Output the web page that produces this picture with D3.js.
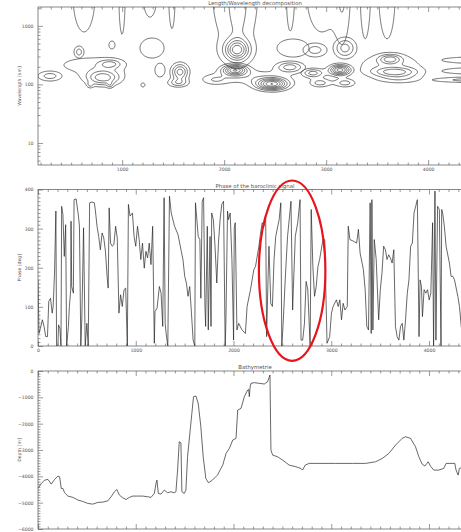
<!DOCTYPE html>
<html><head><meta charset="utf-8">
<script src="https://cdn.jsdelivr.net/npm/d3@7"></script>
<style>
html,body{margin:0;padding:0;background:#fff;}
svg{display:block;}
</style></head><body>
<svg id="c" width="461" height="532"></svg>
<script>
// ---------------- DATA ----------------
const titles = ["Length/Wavelength decomposition", "Phase of the baroclinic signal", "Bathymetrie"];
const yTitles = ["Wavelength [km]", "Phase [deg]", "Depth [m]"];

// Top panel: wavelet power features
// along-track position (km), wavelength (km), peak level, spread along track (km), spread in log10(wavelength), feature group
const blobX   = [626, 999, 1273, 1489, 2646, 2959, 3165, 3381, 3597,
                 2106, 2136, 2126,
                 577, 900, 293,
                 700, 881, 812, 685, 881,
                 1293, 1204, 1371,
                 1567, 1548,
                 1910, 2106, 2469, 2646, 2250,
                 2675, 2891, 3185,
                 2871, 3136, 2940, 3185,
                 3626, 3675, 3626, 3724,
                 4450, 4450, 4450];
const blobWl  = [3365, 3365, 3365, 3365, 3365, 3365, 3365, 3365, 3365,
                 3365, 3365, 387,
                 357, 471, 139,
                 214, 223, 129, 98, 98,
                 418, 98, 176,
                 163, 106,
                 119, 176, 101, 198, 134,
                 418, 387, 418,
                 156, 176, 106, 106,
                 271, 163, 214, 124,
                 261, 169, 119];
const blobAmp = [1.5, 1.5, 1.5, 1.5, 1.5, 1.5, 1.5, 1.5, 1.5,
                 1.5, 1.5, 5.5,
                 2.5, 1.5, 2.5,
                 1.5, 2.5, 4.5, 1.5, 1.5,
                 1.5, 1.5, 1.5,
                 4.5, 2.5,
                 1.5, 6.5, 7.5, 3.5, 1.5,
                 1.5, 2.5, 3.5,
                 3.5, 6.5, 2.5, 2.5,
                 3.5, 3.5, 1.8, 1.5,
                 1.5, 1.5, 2.5];
const blobSx  = [120, 33, 76, 33, 33, 163, 54, 44, 87,
                 240, 65, 80,
                 36, 33, 87,
                 300, 72, 113, 22, 22,
                 131, 22, 55,
                 57, 72,
                 87, 81, 103, 93, 300,
                 174, 87, 74,
                 74, 71, 72, 72,
                 74, 149, 250, 163,
                 350, 350, 300];
const blobSy  = [0.70, 0.74, 0.42, 0.63, 0.57, 0.70, 0.66, 0.76, 0.83,
                 1.0, 0.61, 0.12,
                 0.076, 0.076, 0.063,
                 0.133, 0.05, 0.089, 0.038, 0.038,
                 0.19, 0.038, 0.13,
                 0.099, 0.05,
                 0.057, 0.062, 0.068, 0.065, 0.1,
                 0.171, 0.088, 0.119,
                 0.054, 0.062, 0.05, 0.05,
                 0.054, 0.054, 0.15, 0.057,
                 0.057, 0.057, 0.032];
const blobGroup = [0, 0, 0, 0, 0, 0, 0, 0, 0,
                 1, 1, 1,
                 2, 3, 4,
                 5, 5, 5, 5, 5,
                 6, 7, 8,
                 9, 9,
                 10, 10, 10, 10, 10,
                 11, 12, 13,
                 14, 14, 14, 14,
                 15, 15, 15, 15,
                 16, 16, 16];
const contourLevels = [1, 2, 3, 4, 5, 6, 7, 8];
const topXDomain = [175, 4430];
const wlDomain = [4.2, 2100];

// Middle panel: phase of the baroclinic signal [along-track km, deg]
const phaseTrack = [
 [0,169],[10,32],[24,45],[45,67],[62,50],[79,24],[97,24],[110,114],[128,122],[145,84],[155,101],[169,186],[183,345],
 [190,0],[204,0],[210,54],[224,45],[235,0],[242,357],[255,336],[269,229],[283,310],[293,0],[311,50],[321,101],
 [335,144],[338,319],[345,152],[362,135],[369,374],[390,376],[414,332],[424,306],[438,0],[449,75],[466,302],[483,0],
 [500,58],[514,0],[528,366],[552,368],[576,366],[586,349],[604,306],[621,280],[638,246],[656,289],[673,276],[690,242],
 [707,178],[718,148],[728,353],[742,263],[759,255],[776,259],[794,306],[811,276],[828,84],[845,131],[862,101],[880,144],
 [897,148],[914,0],[925,362],[942,332],[966,340],[983,280],[1000,255],[1018,306],[1035,272],[1052,221],[1069,263],
 [1087,199],[1104,242],[1121,225],[1138,263],[1156,208],[1173,306],[1190,7],[1197,88],[1218,97],[1242,152],[1259,135],
 [1276,50],[1290,379],[1301,58],[1311,32],[1328,0],[1345,383],[1363,340],[1397,306],[1432,285],[1466,242],[1483,221],
 [1501,178],[1518,161],[1535,127],[1552,152],[1570,84],[1587,15],[1604,0],[1611,366],[1639,280],[1656,272],[1666,122],
 [1680,370],[1694,379],[1708,101],[1715,50],[1732,306],[1742,41],[1760,280],[1770,50],[1777,340],[1794,323],[1811,255],
 [1829,161],[1846,263],[1863,323],[1880,362],[1898,370],[1915,0],[1922,58],[1939,345],[1949,323],[1966,340],[1984,221],
 [2001,15],[2008,302],[2018,315],[2035,41],[2053,58],[2087,41],[2122,32],[2139,101],[2174,144],[2208,195],[2225,203],
 [2260,255],[2277,289],[2294,315],[2312,306],[2329,332],[2339,24],[2353,169],[2363,255],[2381,109],[2398,101],[2415,221],
 [2432,280],[2467,323],[2484,366],[2494,0],[2508,58],[2529,169],[2553,280],[2588,370],[2605,92],[2612,144],[2632,280],
 [2657,315],[2681,374],[2691,15],[2708,15],[2726,58],[2743,165],[2760,144],[2784,0],[2795,349],[2812,203],[2829,127],
 [2846,152],[2864,203],[2881,221],[2915,272],[2933,272],[2957,7],[2984,24],[3002,84],[3019,101],[3053,118],[3071,101],
 [3088,118],[3105,67],[3122,109],[3140,92],[3164,101],[3174,306],[3191,272],[3226,268],[3260,263],[3278,298],[3295,238],
 [3329,195],[3347,144],[3364,50],[3381,41],[3398,366],[3409,32],[3416,374],[3426,41],[3440,272],[3460,221],[3485,67],
 [3502,144],[3519,186],[3536,255],[3554,246],[3571,221],[3588,233],[3605,225],[3623,212],[3640,246],[3657,50],[3674,24],
 [3692,15],[3709,50],[3726,58],[3743,15],[3760,67],[3778,135],[3795,169],[3812,255],[3830,263],[3847,340],[3864,357],
 [3881,374],[3898,24],[3909,169],[3923,152],[3933,75],[3950,144],[3968,135],[3985,144],[4002,118],[4019,135],[4037,315],
 [4047,0],[4061,396],[4071,15],[4088,357],[4106,349],[4123,0],[4130,349],[4140,340],[4157,306],[4175,255],[4209,212],
 [4226,178],[4244,178],[4261,169],[4295,127],[4312,101],[4330,50],[4347,24],[4364,32],[4400,45]
];

// Bottom panel: bathymetry [along-track km, depth m]
const bathyTrack = [
 [0,-4460],[34,-4270],[68,-4143],[102,-4118],[136,-4295],[170,-4118],[204,-3990],[221,-4016],[238,-4460],[255,-4460],
 [272,-4625],[306,-4750],[357,-4800],[408,-4900],[459,-4955],[510,-5030],[561,-5055],[612,-4990],[663,-4980],[714,-4930],
 [748,-4775],[782,-4585],[806,-4500],[833,-4713],[867,-4815],[901,-4880],[935,-4800],[969,-4750],[1020,-4750],[1071,-4750],
 [1122,-4775],[1156,-4800],[1190,-4650],[1207,-4270],[1217,-4143],[1231,-4650],[1258,-4675],[1292,-4523],[1326,-4625],
 [1360,-4585],[1394,-4625],[1411,-4585],[1428,-3763],[1445,-2686],[1462,-2725],[1472,-4585],[1496,-4650],[1513,-4523],
 [1530,-3256],[1547,-2622],[1574,-1609],[1591,-975],[1615,-950],[1639,-1229],[1666,-2116],[1690,-3256],[1717,-4080],
 [1744,-4245],[1785,-4143],[1836,-3953],[1890,-3573],[1924,-3129],[1958,-2939],[1992,-2622],[2026,-2559],[2043,-1482],
 [2077,-1419],[2111,-975],[2145,-722],[2155,-700],[2162,-975],[2170,-600],[2179,-469],[2213,-443],[2264,-469],[2315,-494],
 [2349,-405],[2373,-152],[2383,-3003],[2400,-3193],[2451,-3256],[2502,-3383],[2570,-3573],[2638,-3636],[2689,-3700],
 [2706,-3763],[2734,-3573],[2774,-3509],[2876,-3509],[3046,-3509],[3216,-3509],[3352,-3509],[3454,-3446],[3522,-3320],
 [3590,-3129],[3658,-2813],[3726,-2559],[3760,-2496],[3811,-2559],[3862,-2876],[3896,-3256],[3930,-3535],[3958,-3611],
 [3992,-3446],[4015,-3611],[4049,-3763],[4100,-3763],[4151,-3700],[4175,-3509],[4236,-3509],[4264,-3509],[4277,-3763],
 [4298,-3953],[4311,-3700],[4350,-3650]
];

// Tick values
const xMajorTicks = [0, 1000, 2000, 3000, 4000];
const xMinorTicks = d3.range(100, 4500, 100).filter(v => v % 1000 !== 0);
const wlMajorTicks = [10, 100, 1000];
const wlMinorTicks = [5,6,7,8,9,20,30,40,50,60,70,80,90,200,300,400,500,600,700,800,900,2000];
const phaseMajorTicks = [0, 100, 200, 300, 400];
const phaseMinorTicks = d3.range(10, 400, 10).filter(v => v % 100 !== 0);
const depthMajorTicks = [0, -1000, -2000, -3000, -4000, -5000, -6000];
const depthMinorTicks = d3.range(-100, -6000, -100).filter(v => v % 1000 !== 0);

// Highlight ellipse (along-track km range, phase range)
const highlightX = [2260, 2940];
const highlightPhase = [-38, 423];

// ---------------- DRAWING ----------------
const svg = d3.select("#c");
const L = 38, R = 472;
const panels = [
  {top: 7, bottom: 165},
  {top: 189.5, bottom: 346},
  {top: 371, bottom: 529}
];
const ink = "#262626", axisInk = "#555", textInk = "#555";
const FONT = "DejaVu Sans, sans-serif";

function styleAxis(g) {
  g.attr("font-size", 4.6).attr("font-family", FONT);
  g.select(".domain").remove();
  g.selectAll("line").attr("stroke", axisInk).attr("stroke-width", 0.6);
  g.selectAll("text").attr("fill", textInk);
}

function axes(p, x, y, xMaj, xMin, yMaj, yMin, xFmt, yFmt, title, ytitle, xLabels) {
  const g = svg.append("g");
  const inX = v => v >= x.domain()[0] && v <= x.domain()[1];
  g.append("g").attr("transform", `translate(0,${p.bottom})`)
    .call(d3.axisBottom(x).tickValues(xMaj.filter(inX)).tickSize(-5).tickSizeOuter(0).tickPadding(2.5).tickFormat(xLabels ? xFmt : ""))
    .call(styleAxis);
  g.append("g").attr("transform", `translate(0,${p.bottom})`)
    .call(d3.axisBottom(x).tickValues(xMin.filter(inX)).tickSize(-2.5).tickSizeOuter(0).tickFormat(""))
    .call(styleAxis);
  g.append("g").attr("transform", `translate(0,${p.top})`)
    .call(d3.axisTop(x).tickValues(xMaj.filter(inX)).tickSize(-5).tickSizeOuter(0).tickFormat(""))
    .call(styleAxis);
  g.append("g").attr("transform", `translate(0,${p.top})`)
    .call(d3.axisTop(x).tickValues(xMin.filter(inX)).tickSize(-2.5).tickSizeOuter(0).tickFormat(""))
    .call(styleAxis);
  g.append("g").attr("transform", `translate(${L},0)`)
    .call(d3.axisLeft(y).tickValues(yMaj).tickSize(-5).tickSizeOuter(0).tickPadding(4.5).tickFormat(yFmt))
    .call(styleAxis);
  g.append("g").attr("transform", `translate(${L},0)`)
    .call(d3.axisLeft(y).tickValues(yMin).tickSize(-2.5).tickSizeOuter(0).tickFormat(""))
    .call(styleAxis);
  g.append("g").attr("transform", `translate(${R},0)`)
    .call(d3.axisRight(y).tickValues(yMaj).tickSize(-5).tickSizeOuter(0).tickFormat(""))
    .call(styleAxis);
  g.append("rect").attr("x", L).attr("y", p.top).attr("width", R - L).attr("height", p.bottom - p.top)
    .attr("fill", "none").attr("stroke", axisInk).attr("stroke-width", 0.7);
  g.append("text").attr("x", (L + R) / 2).attr("y", p.top - 2).attr("text-anchor", "middle")
    .attr("font-family", FONT).attr("font-size", 5.4).attr("fill", textInk).text(title);
  g.append("text").attr("transform", `translate(${21},${(p.top + p.bottom) / 2}) rotate(-90)`)
    .attr("text-anchor", "middle").attr("font-family", FONT).attr("font-size", 4.6).attr("fill", textInk).text(ytitle);
}

function clip(id, p) {
  svg.append("clipPath").attr("id", id).append("rect")
    .attr("x", L).attr("y", p.top).attr("width", R - L).attr("height", p.bottom - p.top);
}

// ---- Top panel: contours ----
{
  const p = panels[0];
  const x = d3.scaleLinear().domain(topXDomain).range([L, R]);
  const y = d3.scaleLog().domain(wlDomain).range([p.bottom, p.top]);
  clip("c0", p);
  const nx = 400, ny = 220;
  const lw0 = Math.log10(wlDomain[0]), lw1 = Math.log10(wlDomain[1]);
  const blobs = blobX.map((bx, k) => ({x: bx, l: Math.log10(blobWl[k]), a: blobAmp[k], sx: blobSx[k], sy: blobSy[k], g: blobGroup[k]}));
  const groups = d3.groups(blobs, b => b.g);
  const proj = d3.geoTransform({
    point(px, py) {
      const xv = topXDomain[0] + (topXDomain[1] - topXDomain[0]) * (px - 0.5) / (nx - 1);
      const lv = lw1 - (lw1 - lw0) * (py - 0.5) / (ny - 1);
      this.stream.point(x(xv), y(Math.pow(10, lv)));
    }
  });
  const path = d3.geoPath(proj);
  const cg = svg.append("g").attr("clip-path", "url(#c0)");
  for (const [gid, members] of groups) {
    const values = new Float64Array(nx * ny);
    for (let j = 0; j < ny; j++) {
      const lv = lw1 - (lw1 - lw0) * j / (ny - 1);
      for (let i = 0; i < nx; i++) {
        const xv = topXDomain[0] + (topXDomain[1] - topXDomain[0]) * i / (nx - 1);
        let s = 0;
        for (const b of members) {
          const dx = (xv - b.x) / b.sx, dy = (lv - b.l) / b.sy;
          s += b.a * Math.exp(-0.5 * (dx * dx + dy * dy));
        }
        values[j * nx + i] = s;
      }
    }
    const contours = d3.contours().size([nx, ny]).thresholds(contourLevels)(values);
    cg.append("g").selectAll("path").data(contours).join("path")
      .attr("d", path).attr("fill", "none").attr("stroke", ink).attr("stroke-width", 0.65);
  }
  axes(p, x, y, xMajorTicks, xMinorTicks, wlMajorTicks, wlMinorTicks, d3.format("d"), d3.format("d"), titles[0], yTitles[0], true);
}

// ---- Middle panel: phase ----
{
  const p = panels[1];
  const x = d3.scaleLinear().domain([0, 4440]).range([L, R]);
  const y = d3.scaleLinear().domain([0, 400]).range([p.bottom, p.top]);
  clip("c1", p);
  svg.append("path").datum(phaseTrack).attr("clip-path", "url(#c1)")
    .attr("d", d3.line().x(d => x(d[0])).y(d => y(d[1])))
    .attr("fill", "none").attr("stroke", ink).attr("stroke-width", 0.7);
  axes(p, x, y, xMajorTicks, xMinorTicks, phaseMajorTicks, phaseMinorTicks, d3.format("d"), d3.format("d"), titles[1], yTitles[1], true);
  const cx = x((highlightX[0] + highlightX[1]) / 2), cy = y((highlightPhase[0] + highlightPhase[1]) / 2);
  svg.append("ellipse").attr("cx", cx).attr("cy", cy)
    .attr("rx", (x(highlightX[1]) - x(highlightX[0])) / 2)
    .attr("ry", (y(highlightPhase[0]) - y(highlightPhase[1])) / 2)
    .attr("fill", "none").attr("stroke", "#e8141c").attr("stroke-width", 2.2);
}

// ---- Bottom panel: bathymetry ----
{
  const p = panels[2];
  const x = d3.scaleLinear().domain([0, 4440]).range([L, R]);
  const y = d3.scaleLinear().domain([-6000, 0]).range([p.bottom, p.top]);
  clip("c2", p);
  svg.append("path").datum(bathyTrack).attr("clip-path", "url(#c2)")
    .attr("d", d3.line().x(d => x(d[0])).y(d => y(d[1])))
    .attr("fill", "none").attr("stroke", ink).attr("stroke-width", 0.7);
  // x tick labels of this panel fall below the visible window in the reference
  axes(p, x, y, xMajorTicks, xMinorTicks, depthMajorTicks, depthMinorTicks, d3.format("d"), d3.format("d"), titles[2], yTitles[2], false);
}
</script></body></html>
